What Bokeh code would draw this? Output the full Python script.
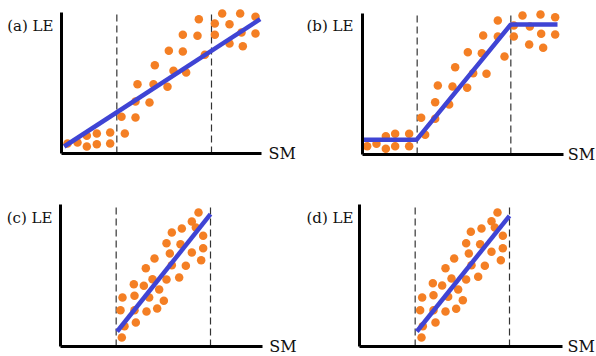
from bokeh.plotting import figure
from bokeh.models import Range1d, Label, FixedTicker
from bokeh.layouts import column, row
from bokeh.embed import file_html
from bokeh.resources import INLINE

# ---------------- data (arbitrary units) ----------------
tags = ["(a)", "(b)", "(c)", "(d)"]
x_name = "SM"
y_name = "LE"

# (a) linear
sm_a = [18, 48, 76, 76, 106, 106, 146, 146, 190, 180, 222, 222, 264, 228, 276, 318, 336, 280,
        374, 322, 364, 364, 408, 412, 430, 460, 460, 482, 504, 504, 536, 540, 544, 582, 582]
le_a = [30, 33, 21, 53, 28, 60, 30, 63, 60, 110, 108, 156, 153, 208, 208, 200, 248, 265,
        243, 308, 306, 356, 353, 403, 296, 356, 390, 420, 388, 330, 420, 363, 322, 410, 360]
fit_sm_a = [8, 596]
fit_le_a = [21, 403]
thr_a = [166, 450]

# (b) piecewise
sm_b = [14, 42, 70, 70, 98, 98, 140, 140, 188, 176, 218, 218, 260, 226, 270, 314, 332, 278,
        372, 316, 358, 362, 406, 406, 426, 454, 454, 480, 502, 500, 534, 536, 542, 578, 578]
le_b = [25, 32, 17, 55, 25, 62, 62, 25, 59, 110, 107, 157, 150, 207, 204, 200, 244, 262,
        242, 307, 304, 357, 354, 402, 294, 354, 387, 417, 384, 330, 420, 362, 320, 412, 360]
fit_sm_b = [0, 162, 445, 585]
fit_le_b = [44, 44, 390, 390]
thr_b = [164, 445]

# (c) only within the transitional range
sm_c = [184, 192, 226, 180, 186, 222, 222, 220, 250, 258, 266, 276, 256, 282, 290, 296, 310,
        318, 318, 328, 334, 334, 356, 364, 360, 376, 394, 394, 414, 406, 428, 428, 422]
le_c = [27, 61, 72, 109, 147, 109, 152, 187, 182, 105, 147, 202, 235, 264, 114, 171, 137,
        201, 310, 279, 342, 244, 207, 354, 307, 242, 282, 375, 402, 357, 332, 295, 259]
fit_sm_c = [170, 450]
fit_le_c = [45, 397]
thr_c = [167, 450]

# (d)
sm_d = [186, 190, 228, 182, 188, 222, 222, 220, 248, 258, 266, 276, 258, 284, 290, 296, 310,
        320, 320, 328, 334, 336, 356, 366, 362, 376, 396, 396, 414, 406, 430, 430, 424]
le_d = [27, 61, 72, 109, 147, 109, 154, 190, 183, 105, 149, 204, 235, 264, 113, 171, 139,
        201, 310, 279, 344, 244, 209, 354, 307, 242, 284, 376, 402, 357, 332, 295, 259]
fit_sm_d = [172, 450]
fit_le_d = [45, 392]
thr_d = [167, 450]

DOT = "#F47F24"
BLUE = "#3F44D4"
FONT = "DejaVu Serif"
U = 3  # data units per screen pixel


def panel(tag, sm, le, fit_sm, fit_le, thr, w, h, ox, oy,
          xaxis_end, yaxis_top, dash_top, lab_dx, lab_y, sm_dx):
    p = figure(width=w, height=h, output_backend="svg", toolbar_location=None,
               x_range=Range1d(-ox * U, (w - ox) * U),
               y_range=Range1d(-(h - oy) * U, oy * U),
               min_border=0)
    p.outline_line_color = None
    p.grid.visible = False
    p.background_fill_color = "white"
    p.border_fill_color = "white"
    for ax, end in ((p.xaxis[0], xaxis_end), (p.yaxis[0], yaxis_top)):
        ax.fixed_location = 0
        ax.ticker = FixedTicker(ticks=[])
        ax.axis_line_width = 3
        ax.axis_line_color = "black"
        ax.major_tick_line_color = None
        ax.minor_tick_line_color = None
        ax.major_label_text_font_size = "0px"
        ax.major_label_standoff = 0
        ax.bounds = (0, end)
    p.segment(x0=thr, y0=[0, 0], x1=thr, y1=[dash_top, dash_top],
              line_color="#333333", line_width=1.2, line_dash="7 4")
    p.scatter(sm, le, size=8.5, fill_color=DOT, line_color=None)
    p.line(fit_sm, fit_le, line_color=BLUE, line_width=4.5)
    p.add_layout(Label(x=lab_dx, y=lab_y, text=f"{tag} {y_name}", text_align="right",
                       text_baseline="middle", text_font=FONT, text_font_size="15px",
                       text_color="#111111"))
    p.add_layout(Label(x=xaxis_end + sm_dx, y=0, text=x_name, text_align="left",
                       text_baseline="middle", text_font=FONT, text_font_size="16px",
                       text_color="#111111"))
    return p


pa = panel(tags[0], sm_a, le_a, fit_sm_a, fit_le_a, thr_a, 297, 180, 61, 153,
           600, 423, 418, -24, 384, 21)
pb = panel(tags[1], sm_b, le_b, fit_sm_b, fit_le_b, thr_b, 299, 180, 65, 154,
           602, 424, 417, -27, 387, 14)
pc = panel(tags[2], sm_c, le_c, fit_sm_c, fit_le_c, thr_c, 297, 176, 60, 166,
           605, 425, 419, -24, 385, 21)
pd = panel(tags[3], sm_d, le_d, fit_sm_d, fit_le_d, thr_d, 299, 176, 62, 166,
           610, 425, 419, -18, 385, 14)

layout = column(row(pa, pb), row(pc, pd))
open("out.html", "w").write(file_html(layout, INLINE))
